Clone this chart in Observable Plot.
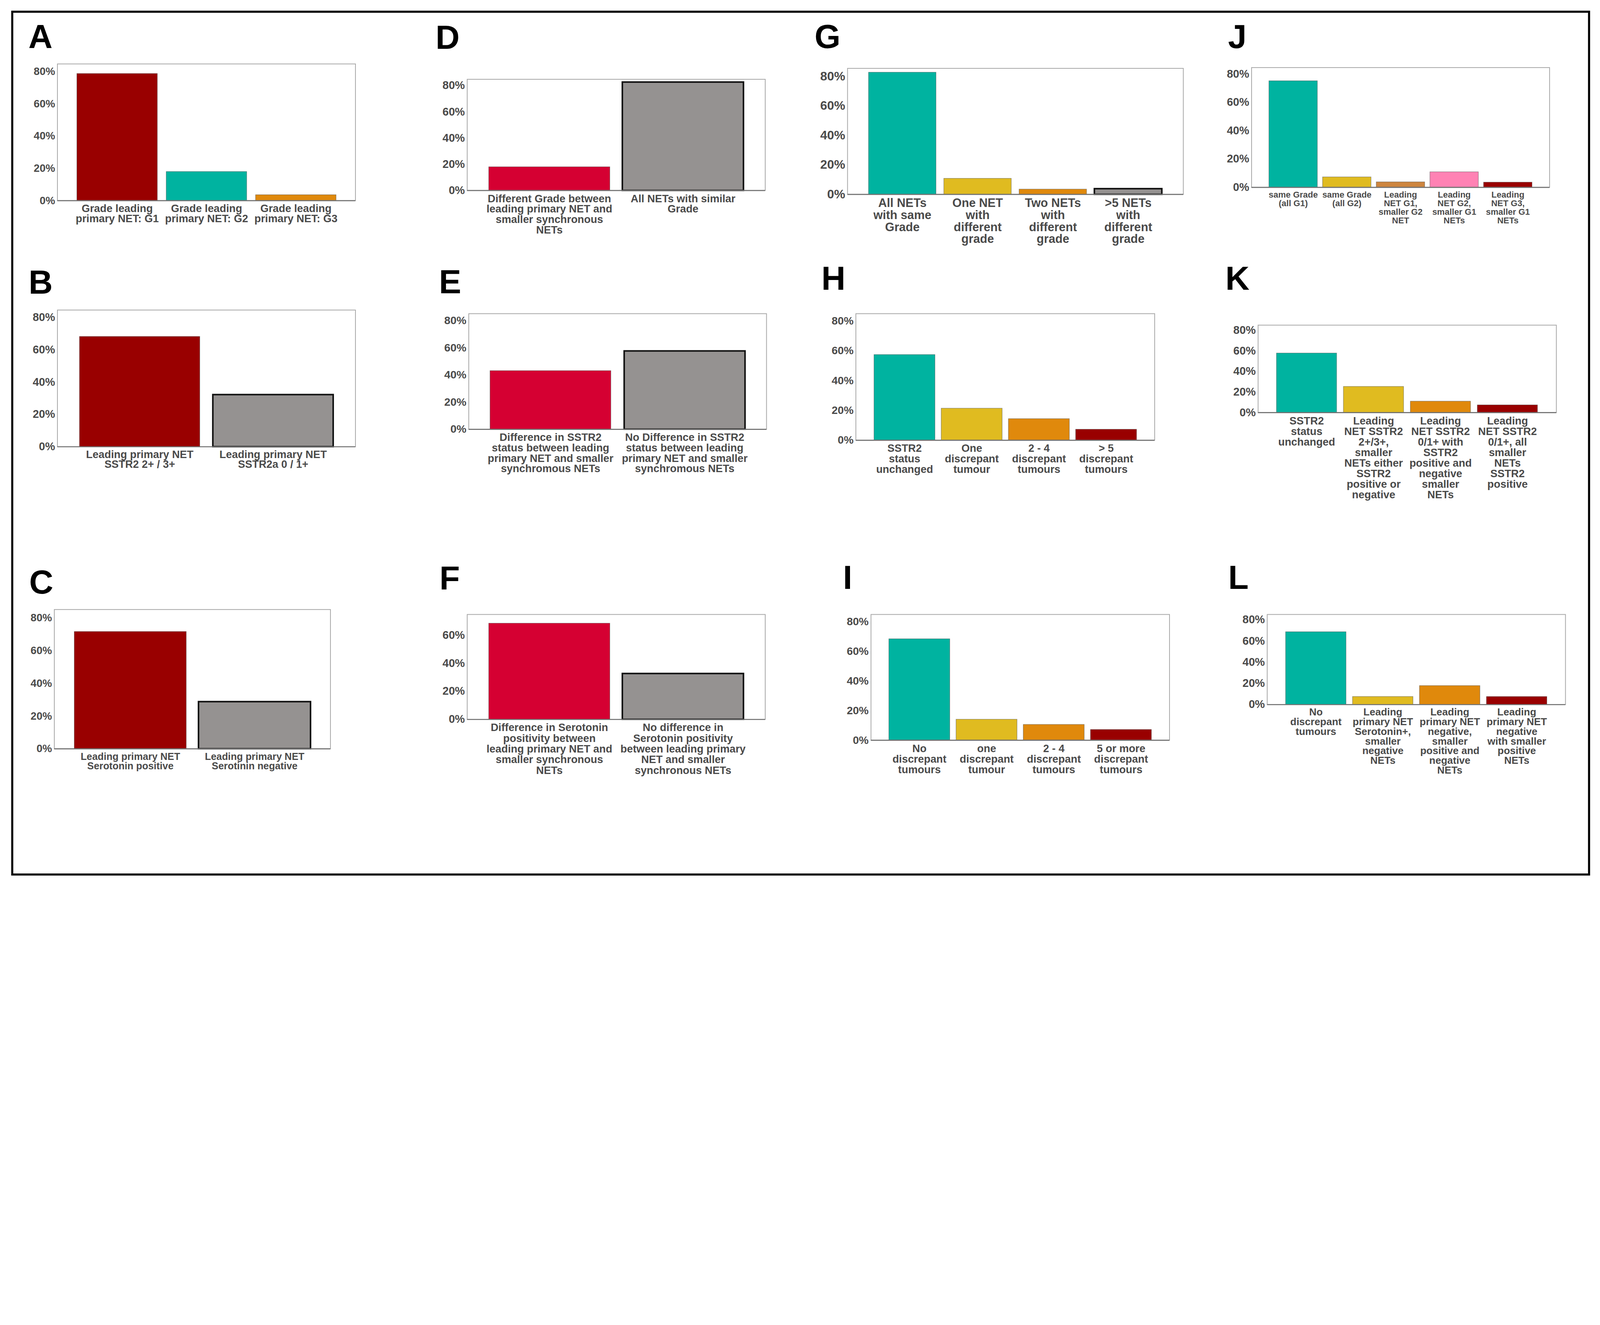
<!DOCTYPE html>
<html><head><meta charset="utf-8">
<script src="https://cdn.jsdelivr.net/npm/d3@7"></script>
<script src="https://cdn.jsdelivr.net/npm/@observablehq/plot@0.6"></script>
<style>
html,body{margin:0;padding:0;background:#fff;overflow:hidden;}
#wrap{position:relative;overflow:hidden;background:#fff;}
#page{position:absolute;left:0;top:0;width:6142px;height:3393px;overflow:hidden;background:#fff;font-family:"Liberation Sans",Arial,sans-serif;transform-origin:0 0;}
#frame{position:absolute;left:43px;top:41px;width:6061px;height:3321px;border:8px solid #000;box-sizing:border-box;}
.letter{position:absolute;font-weight:bold;font-size:128px;line-height:1;color:#000;font-family:"Liberation Sans",Arial,sans-serif;}
.panel{position:absolute;}
.panel svg{max-width:none;}
</style></head><body><div id="wrap"><div id="page"><div id="frame"></div></div></div>
<script>
// ---------- data ----------
const A_labels = ["Grade leading\nprimary NET: G1", "Grade leading\nprimary NET: G2", "Grade leading\nprimary NET: G3"];
const A_values = [78.8, 18.0, 3.6];

const B_labels = ["Leading primary NET\nSSTR2 2+ / 3+", "Leading primary NET\nSSTR2a 0 / 1+"];
const B_values = [68.2, 32.2];

const C_labels = ["Leading primary NET\nSerotonin positive", "Leading primary NET\nSerotinin negative"];
const C_values = [71.7, 28.8];

const D_labels = ["Different Grade between\nleading primary NET and\nsmaller synchronous\nNETs", "All NETs with similar\nGrade"];
const D_values = [18.0, 82.6];

const E_labels = ["Difference in SSTR2\nstatus between leading\nprimary NET and smaller\nsynchromous NETs", "No Difference in SSTR2\nstatus between leading\nprimary NET and smaller\nsynchromous NETs"];
const E_values = [43.1, 57.6];

const F_labels = ["Difference in Serotonin\npositivity between\nleading primary NET and\nsmaller synchronous\nNETs", "No difference in\nSerotonin positivity\nbetween leading primary\nNET and smaller\nsynchronous NETs"];
const F_values = [68.4, 32.6];

const G_labels = ["All NETs\nwith same\nGrade", "One NET\nwith\ndifferent\ngrade", "Two NETs\nwith\ndifferent\ngrade", ">5 NETs\nwith\ndifferent\ngrade"];
const G_values = [82.7, 10.8, 3.5, 3.8];

const H_labels = ["SSTR2\nstatus\nunchanged", "One\ndiscrepant\ntumour", "2 - 4\ndiscrepant\ntumours", "> 5\ndiscrepant\ntumours"];
const H_values = [57.4, 21.4, 14.4, 7.3];

const I_labels = ["No\ndiscrepant\ntumours", "one\ndiscrepant\ntumour", "2 - 4\ndiscrepant\ntumours", "5 or more\ndiscrepant\ntumours"];
const I_values = [68.4, 14.1, 10.6, 7.2];

const J_labels = ["same Grade\n(all G1)", "same Grade\n(all G2)", "Leading\nNET G1,\nsmaller G2\nNET", "Leading\nNET G2,\nsmaller G1\nNETs", "Leading\nNET G3,\nsmaller G1\nNETs"];
const J_values = [75.2, 7.3, 3.8, 10.9, 3.6];

const K_labels = ["SSTR2\nstatus\nunchanged", "Leading\nNET SSTR2\n2+/3+,\nsmaller\nNETs either\nSSTR2\npositive or\nnegative", "Leading\nNET SSTR2\n0/1+ with\nSSTR2\npositive and\nnegative\nsmaller\nNETs", "Leading\nNET SSTR2\n0/1+, all\nsmaller\nNETs\nSSTR2\npositive"];
const K_values = [57.7, 25.3, 11.0, 7.4];

const L_labels = ["No\ndiscrepant\ntumours", "Leading\nprimary NET\nSerotonin+,\nsmaller\nnegative\nNETs", "Leading\nprimary NET\nnegative,\nsmaller\npositive and\nnegative\nNETs", "Leading\nprimary NET\nnegative\nwith smaller\npositive\nNETs"];
const L_values = [68.6, 7.5, 17.8, 7.5];

const ticks80 = [0, 20, 40, 60, 80];
const ticks60 = [0, 20, 40, 60];

// ---------- styles ----------
const DARKRED = "#990000", TEAL = "#00b3a0", ORANGE = "#e0890c", YELLOW = "#e0bb20",
      CRIMSON = "#d50032", GRAY = "#959291", BROWN = "#cd853f", PINK = "#ff82b4";
const TEXT = "#4a4a4a";
const FONT = "'Liberation Sans', Arial, sans-serif";

const panels = [
  {letter:"A", lx:109, lb:184, labels:A_labels, values:A_values, fills:[DARKRED,TEAL,ORANGE], box:[220,245,1144,525], ymax:84.8, yticks:ticks80, xfont:41, yfont:41, lh:0.95, pi:0.1, po:0.213},
  {letter:"B", lx:110, lb:1128, labels:B_labels, values:B_values, fills:[DARKRED,GRAY], box:[220,1190,1144,525], ymax:84.6, yticks:ticks80, xfont:41, yfont:43, lh:0.93, pi:0.098, po:0.166},
  {letter:"C", lx:112, lb:2280, labels:C_labels, values:C_values, fills:[DARKRED,GRAY], box:[208,2340,1060,535], ymax:85.2, yticks:ticks80, xfont:38, yfont:41, lh:0.97, pi:0.099, po:0.16},
  {letter:"D", lx:1672, lb:188, labels:D_labels, values:D_values, fills:[CRIMSON,GRAY], box:[1793,304,1144,427], ymax:84.8, yticks:ticks80, xfont:41, yfont:43, lh:0.98, pi:0.093, po:0.16},
  {letter:"E", lx:1685, lb:1126, labels:E_labels, values:E_values, fills:[CRIMSON,GRAY], box:[1799,1204,1143,444], ymax:85.1, yticks:ticks80, xfont:41, yfont:42.5, lh:0.98, pi:0.099, po:0.159},
  {letter:"F", lx:1687, lb:2265, labels:F_labels, values:F_values, fills:[CRIMSON,GRAY], box:[1793,2359,1144,403], ymax:74.7, yticks:ticks60, xfont:41, yfont:43, lh:1.0, pi:0.093, po:0.16},
  {letter:"G", lx:3127, lb:185, labels:G_labels, values:G_values, fills:[TEAL,YELLOW,ORANGE,GRAY], box:[3253,262,1289,484], ymax:85.4, yticks:ticks80, xfont:46, yfont:48, lh:1.0, pi:0.103, po:0.274},
  {letter:"H", lx:3153, lb:1112, labels:H_labels, values:H_values, fills:[TEAL,YELLOW,ORANGE,DARKRED], box:[3285,1204,1147,486], ymax:84.9, yticks:ticks80, xfont:41, yfont:42, lh:0.98, pi:0.094, po:0.267},
  {letter:"I", lx:3236, lb:2262, labels:I_labels, values:I_values, fills:[TEAL,YELLOW,ORANGE,DARKRED], box:[3343,2359,1146,483], ymax:84.9, yticks:ticks80, xfont:41, yfont:42, lh:1.0, pi:0.093, po:0.267},
  {letter:"J", lx:4714, lb:185, labels:J_labels, values:J_values, fills:[TEAL,YELLOW,BROWN,PINK,DARKRED], box:[4804,259,1144,460], ymax:84.6, yticks:ticks80, xfont:33, yfont:43, lh:1.0, pi:0.098, po:0.322},
  {letter:"K", lx:4704, lb:1112, labels:K_labels, values:K_values, fills:[TEAL,YELLOW,ORANGE,DARKRED], box:[4829,1248,1145,336], ymax:84.9, yticks:ticks80, xfont:41, yfont:43, lh:0.99, pi:0.1, po:0.269},
  {letter:"L", lx:4715, lb:2262, labels:L_labels, values:L_values, fills:[TEAL,YELLOW,ORANGE,DARKRED], box:[4864,2359,1145,346], ymax:85.0, yticks:ticks80, xfont:39, yfont:43, lh:0.95, pi:0.096, po:0.27}
];

const page = document.getElementById("page");
const wrap = document.getElementById("wrap");

// fit the 6142x3393 design into the actual viewport
const vw = document.documentElement.clientWidth || window.innerWidth;
const vh = window.innerHeight || document.documentElement.clientHeight;
const s = Math.min(vw / 6142, vh / 3393);
page.style.transform = "scale(" + s + ")";
wrap.style.width = (6142 * s) + "px";
wrap.style.height = (3393 * s) + "px";

for (const p of panels) {
  const mL = 140, mR = 14, mT = 14, mB = 420;
  const data = p.labels.map((l, i) => ({label: l, value: p.values[i], fill: p.fills[i]}));
  const chart = Plot.plot({
    width: mL + p.box[2] + mR,
    height: mT + p.box[3] + mB,
    marginLeft: mL, marginRight: mR, marginTop: mT, marginBottom: mB,
    style: {fontFamily: FONT, fontWeight: "bold", background: "transparent", overflow: "visible", maxWidth: "none"},
    x: {domain: p.labels, paddingInner: p.pi, paddingOuter: p.po},
    y: {domain: [0, p.ymax]},
    color: {type: "identity"},
    marks: [
      Plot.barY(data.filter(d => d.fill !== GRAY), {x: "label", y: "value", fill: "fill", stroke: "#4d4d4d", strokeOpacity: 0.55, strokeWidth: 2}),
      Plot.barY(data.filter(d => d.fill === GRAY), {x: "label", y: "value", fill: "fill", stroke: "#111111", strokeWidth: 6}),
      Plot.frame({stroke: "#a8a8a8", strokeWidth: 3}),
      Plot.ruleY([0], {stroke: "#707070", strokeWidth: 4}),
      Plot.axisY({ticks: p.yticks, tickFormat: d => d + "%", tickSize: 0, tickPadding: 9, fontSize: p.yfont, fill: TEXT, label: null}),
      Plot.axisX({tickSize: 0, tickPadding: 16, fontSize: p.xfont, lineHeight: p.lh, fill: TEXT, label: null})
    ]
  });
  const div = document.createElement("div");
  div.className = "panel";
  div.style.left = (p.box[0] - mL) + "px";
  div.style.top = (p.box[1] - mT) + "px";
  div.style.width = (mL + p.box[2] + mR) + "px";
  div.appendChild(chart);
  page.appendChild(div);

  const lt = document.createElement("div");
  lt.className = "letter";
  lt.textContent = p.letter;
  lt.style.left = p.lx + "px";
  lt.style.top = (p.lb - 108) + "px";
  page.appendChild(lt);
}
</script></body></html>
